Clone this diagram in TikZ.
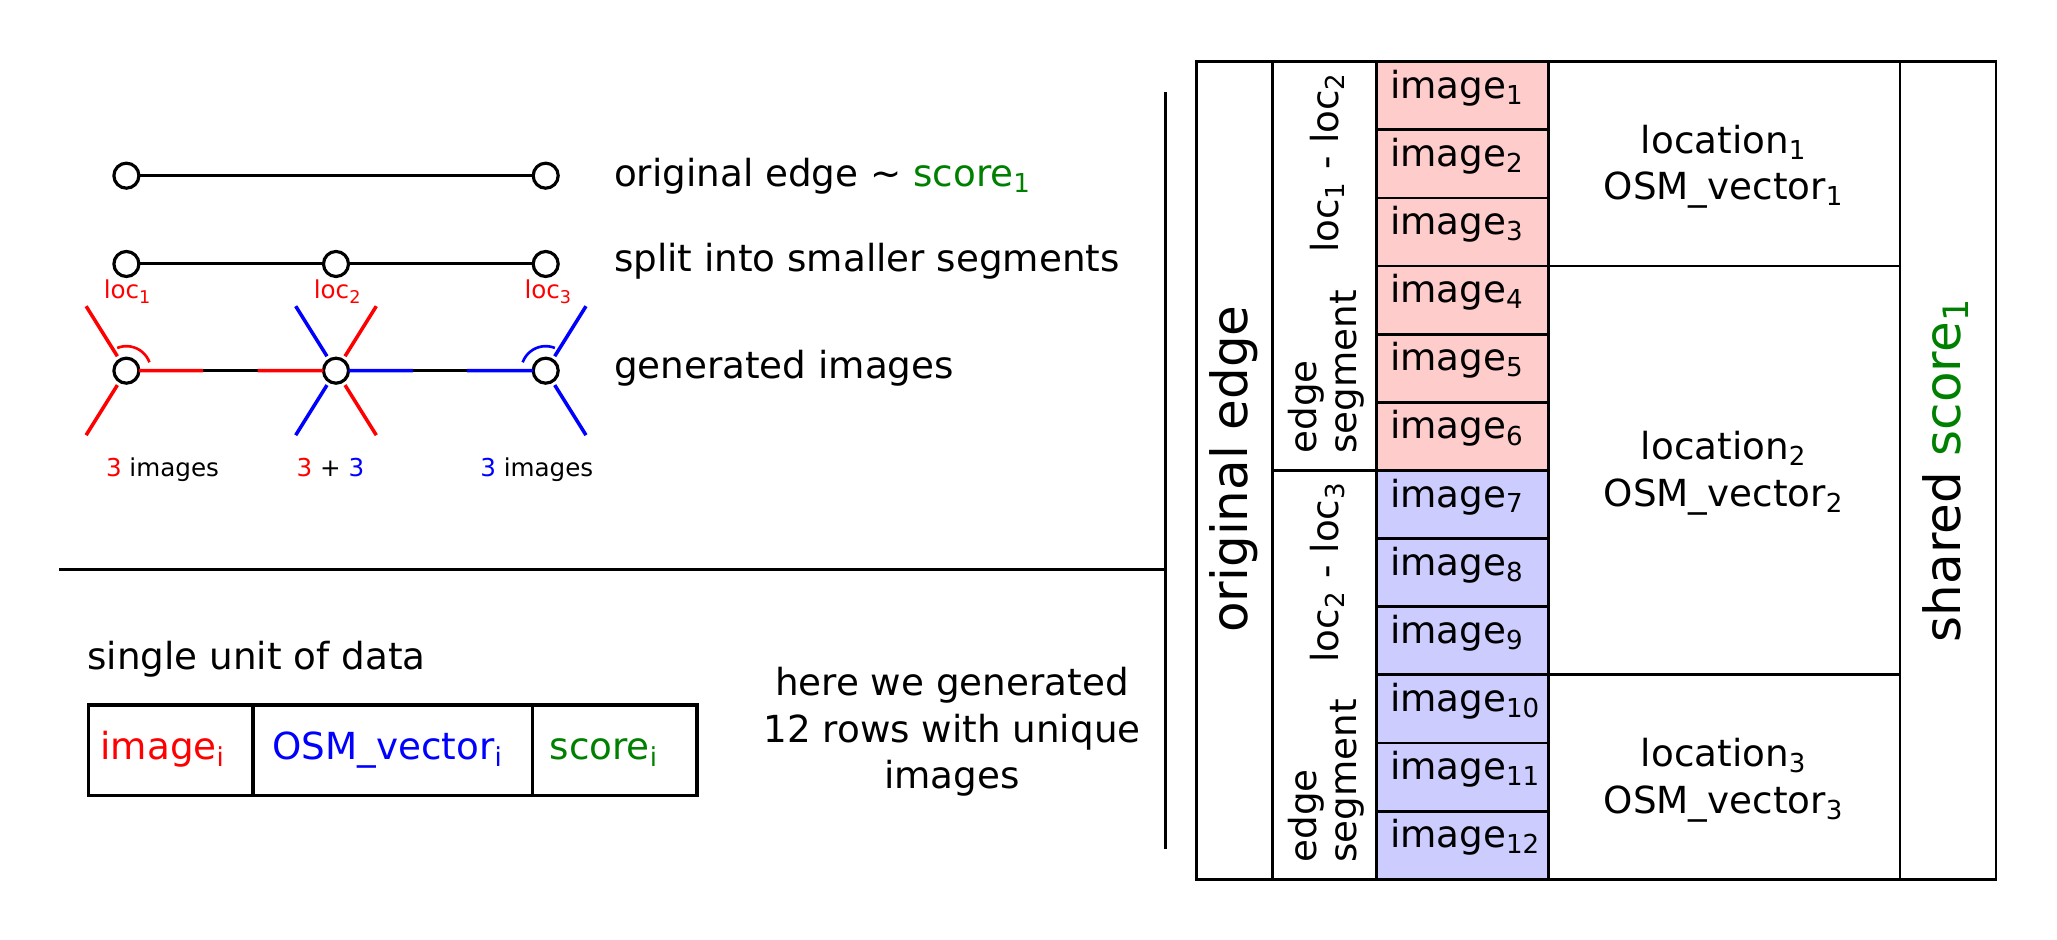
\documentclass[tikz,border=0pt]{standalone}
\usepackage{fontspec}
\setmainfont{DejaVu Sans}
\usetikzlibrary{calc}
\definecolor{pinkfill}{HTML}{FFCCCC}
\definecolor{bluefill}{HTML}{CCCCFF}
\definecolor{myred}{HTML}{FF0000}
\definecolor{myblue}{HTML}{0000FF}
\definecolor{mygreen}{HTML}{008000}
\newcommand\sbs[1]{\textsubscript{#1}}
\begin{document}
\begin{tikzpicture}[x=0.01cm,y=0.01cm,
  every node/.style={inner sep=0pt, outer sep=0pt},
  maintxt/.style={font=\fontsize{10.6}{13.2}\selectfont},
  smalltxt/.style={font=\fontsize{7}{8.4}\selectfont},
  bigtxt/.style={font=\fontsize{14.2}{17}\selectfont},
  vertex/.style={circle, draw, line width=0.9pt, fill=white, minimum size=0.25cm},
  edgeline/.style={line width=0.85pt},
  colline/.style={line width=1pt},
  arcline/.style={line width=0.75pt},
  tblline/.style={line width=0.8pt},
  unitline/.style={line width=1pt}]
\useasboundingbox (0,0) rectangle (2057,940);

% ---------- top: original edge ----------
\node[vertex] (a1) at (126.4,764.3) {};
\node[vertex] (a2) at (545.7,764.3) {};
\draw[edgeline] (a1) -- (a2);

% ---------- split ----------
\node[vertex] (b1) at (126.4,676) {};
\node[vertex] (b2) at (336,676) {};
\node[vertex] (b3) at (545.7,676) {};
\draw[edgeline] (b1) -- (b2);
\draw[edgeline] (b2) -- (b3);
\node[smalltxt, text=myred, anchor=base] (l1) at (128,641) {loc\sbs{1}};
\node[smalltxt, text=myred, anchor=base] (l2) at (338,641) {loc\sbs{2}};
\node[smalltxt, text=myred, anchor=base] (l3) at (548.7,641) {loc\sbs{3}};

% ---------- generated images ----------
\node[vertex] (c1) at (126.4,569.3) {};
\node[vertex] (c2) at (336,569.3) {};
\node[vertex] (c3) at (545.7,569.3) {};
\draw[edgeline] (c1) -- (c2);
\draw[edgeline] (c2) -- (c3);
\draw[colline, myred] (c1) -- ($(c1)!0.366!(c2)$);
\draw[colline, myred] ($(c1)!0.626!(c2)$) -- (c2);
\draw[colline, myblue] (c2) -- ($(c2)!0.367!(c3)$);
\draw[colline, myblue] ($(c2)!0.625!(c3)$) -- (c3);
% rays
\draw[colline, myred] ($(c1)+(122:0.17cm)$) -- ($(c1)+(122:0.76cm)$);
\draw[colline, myred] ($(c1)+(238:0.17cm)$) -- ($(c1)+(238:0.76cm)$);
\draw[colline, myblue] ($(c2)+(122:0.17cm)$) -- ($(c2)+(122:0.76cm)$);
\draw[colline, myblue] ($(c2)+(238:0.17cm)$) -- ($(c2)+(238:0.76cm)$);
\draw[colline, myred] ($(c2)+(58:0.17cm)$) -- ($(c2)+(58:0.76cm)$);
\draw[colline, myred] ($(c2)+(302:0.17cm)$) -- ($(c2)+(302:0.76cm)$);
\draw[colline, myblue] ($(c3)+(58:0.17cm)$) -- ($(c3)+(58:0.76cm)$);
\draw[colline, myblue] ($(c3)+(302:0.17cm)$) -- ($(c3)+(302:0.76cm)$);
\draw[arcline, myred] ($(c1)+(20:0.245cm)$) arc[start angle=20, end angle=112, radius=0.245cm];
\draw[arcline, myblue] ($(c3)+(68:0.245cm)$) arc[start angle=68, end angle=160, radius=0.245cm];
\node[smalltxt, anchor=base] (n1) at (162.5,463) {\textcolor{myred}{3} images};
\node[smalltxt, anchor=base] (n2) at (330.5,463) {\textcolor{myred}{3} + \textcolor{myblue}{3}};
\node[smalltxt, anchor=base] (n3) at (536.8,463) {\textcolor{myblue}{3} images};

% ---------- descriptions ----------
\node[maintxt, anchor=base west] (t1) at (614,753) {original edge \textasciitilde{} \textcolor{mygreen}{score\sbs{1}}};
\node[maintxt, anchor=base west] (t2) at (614,668.5) {split into smaller segments};
\node[maintxt, anchor=base west] (t3) at (614,561) {generated images};

% ---------- separators ----------
\coordinate (h1) at (59,370);
\coordinate (h2) at (1165,370);
\draw[edgeline] (h1) -- (h2);
\coordinate (v1) at (1165,848.2);
\coordinate (v2) at (1165,90.8);
\draw[edgeline] (v1) -- (v2);

% ---------- single unit ----------
\node[maintxt, anchor=base west] (unit) at (87.5,270) {single unit of data};
\draw[unitline] (88.6,144.3) rectangle (696.8,235);
\draw[unitline] (252.8,144.3) -- (252.8,235);
\draw[unitline] (532.6,144.3) -- (532.6,235);
\node[maintxt, anchor=base west, text=myred] (ui) at (100.5,180) {image\sbs{i}};
\node[maintxt, anchor=base west, text=myblue] (uo) at (272.6,180) {OSM\_vector\sbs{i}};
\node[maintxt, anchor=base west, text=mygreen] (us) at (549.6,180) {score\sbs{i}};

% ---------- middle text ----------
\node[maintxt, anchor=base] (m1) at (952,244) {here we generated};
\node[maintxt, anchor=base] (m2) at (952,197.3) {12 rows with unique};
\node[maintxt, anchor=base] (m3) at (952,151) {images};

% ---------- big table ----------
\fill[pinkfill] (1376.7,469.5) rectangle (1548.3,878.3);
\fill[bluefill] (1376.7,60.7) rectangle (1548.3,469.5);
\foreach \i in {1,...,11}
  \draw[tblline] (1376.7,{878.3-\i*68.13}) -- (1548.3,{878.3-\i*68.13});
\draw[tblline] (1272.7,60.7) -- (1272.7,878.3);
\draw[tblline] (1376.7,60.7) -- (1376.7,878.3);
\draw[tblline] (1548.3,60.7) -- (1548.3,878.3);
\draw[tblline] (1900,60.7) -- (1900,878.3);
\draw[tblline] (1272.7,469.5) -- (1376.7,469.5);
\draw[tblline] (1548.3,673.9) -- (1900,673.9);
\draw[tblline] (1548.3,265.1) -- (1900,265.1);
\draw[tblline] (1196.7,60.7) rectangle (1996,878.3);

\foreach \i in {1,...,12}
  \node[maintxt, anchor=base west] (img\i) at (1390,{878.3-(\i-0.5)*68.13-2.5}) {image\sbs{\i}};

\node[maintxt, anchor=base] (loc1a) at (1724,786.7) {location\sbs{1}};
\node[maintxt, anchor=base] (loc1b) at (1724,740) {OSM\_vector\sbs{1}};
\node[maintxt, anchor=base] (loc2a) at (1724,480.1) {location\sbs{2}};
\node[maintxt, anchor=base] (loc2b) at (1724,433.4) {OSM\_vector\sbs{2}};
\node[maintxt, anchor=base] (loc3a) at (1724,173.5) {location\sbs{3}};
\node[maintxt, anchor=base] (loc3b) at (1724,126.8) {OSM\_vector\sbs{3}};

\node[maintxt, rotate=90, anchor=base west] (s1a) at (1338.3,687) {loc\sbs{1} - loc\sbs{2}};
\node[maintxt, rotate=90, anchor=base west] (s1b) at (1316,486.5) {edge};
\node[maintxt, rotate=90, anchor=base west] (s1c) at (1356.7,486.5) {segment};
\node[maintxt, rotate=90, anchor=base west] (s2a) at (1338.3,277.5) {loc\sbs{2} - loc\sbs{3}};
\node[maintxt, rotate=90, anchor=base west] (s2b) at (1316,77.5) {edge};
\node[maintxt, rotate=90, anchor=base west] (s2c) at (1356.7,77.5) {segment};

\node[bigtxt, rotate=90, anchor=base] (oe) at (1247.7,471) {original edge};
\node[bigtxt, rotate=90, anchor=base] (sh) at (1960,470) {shared \textcolor{mygreen}{score\sbs{1}}};
\end{tikzpicture}
\end{document}
